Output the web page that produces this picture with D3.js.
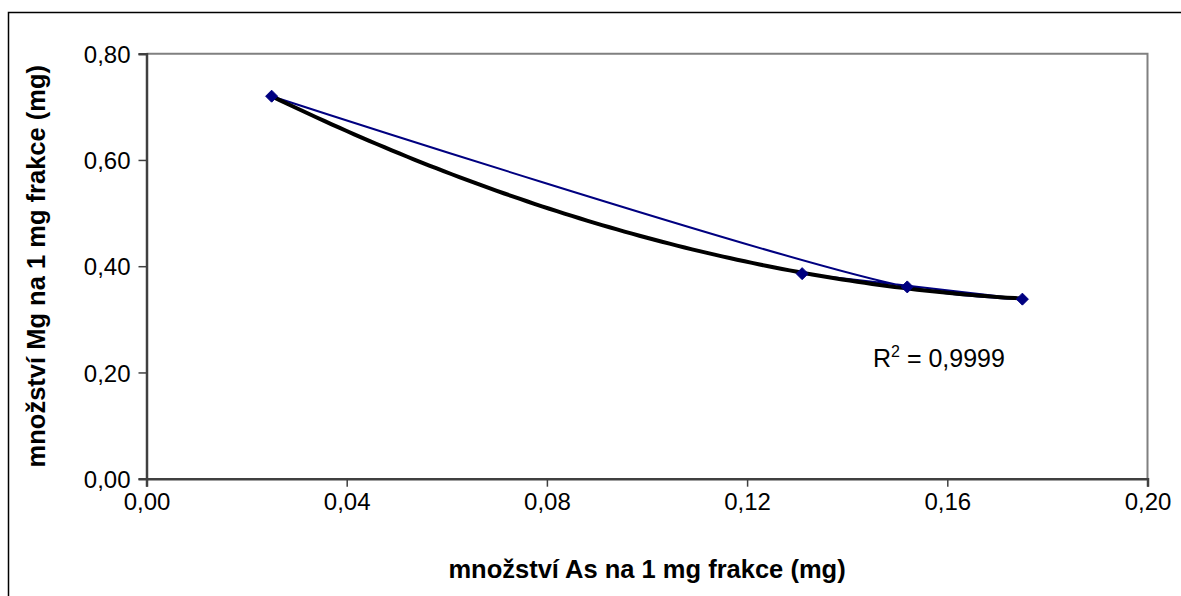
<!DOCTYPE html>
<html>
<head>
<meta charset="utf-8">
<script src="https://cdn.jsdelivr.net/npm/d3@7"></script>
<style>
	html, body { margin: 0; padding: 0; background: #fff; overflow: hidden; }
	svg { display: block; font-family: "Liberation Sans", Arial, sans-serif; }
</style>
</head>
<body>
<svg id="chart"></svg>
<script>
// measured values, in the order of the sheet
var asValues = [0.025, 0.152, 0.175, 0.131];
var mgValues = [0.720, 0.361, 0.338, 0.386];
var xTicks = [0, 0.04, 0.08, 0.12, 0.16, 0.20];
var yTicks = [0, 0.20, 0.40, 0.60, 0.80];
var xTitle = "množství As na 1 mg frakce (mg)";
var yTitle = "množství Mg na 1 mg frakce (mg)";
var rSquaredLabel = "0,9999";

var width = 1181, height = 596;
var plot = {left: 146.5, right: 1147.5, top: 53.7, bottom: 478.7};

var svg = d3.select("#chart")
	.attr("width", width)
	.attr("height", height);

// outer chart frame, cut off at the right and bottom
svg.append("rect")
	.attr("x", 8.5)
	.attr("y", 12.5)
	.attr("width", 1300)
	.attr("height", 700)
	.style("fill", "none")
	.style("stroke", "#000")
	.style("stroke-width", 1.5);

var x = d3.scaleLinear().domain([0, 0.2]).range([plot.left, plot.right]);
var y = d3.scaleLinear().domain([0, 0.8]).range([plot.bottom, plot.top]);

var comma = function(d) { return d3.format(".2f")(d).replace(".", ","); };

// plot area border (top and right are grey)
svg.append("path")
	.attr("d", "M" + plot.left + "," + plot.top + "H" + plot.right + "V" + plot.bottom)
	.style("fill", "none")
	.style("stroke", "#808080")
	.style("stroke-width", 2);

var xAxis = svg.append("g")
	.attr("transform", "translate(0," + plot.bottom + ")")
	.call(d3.axisBottom(x).tickValues(xTicks).tickFormat(comma).tickSize(8).tickPadding(2));
var yAxis = svg.append("g")
	.attr("transform", "translate(" + plot.left + ",0)")
	.call(d3.axisLeft(y).tickValues(yTicks).tickFormat(comma).tickSize(8).tickPadding(8));

[xAxis, yAxis].forEach(function(axis) {
	axis.select(".domain").style("stroke", "#404040").style("stroke-width", 2.5);
	axis.selectAll(".tick line").style("stroke", "#404040").style("stroke-width", 1.5);
	axis.selectAll(".tick text")
		.style("font-family", "\"Liberation Sans\", Arial, sans-serif")
		.style("font-size", "24px")
		.style("fill", "#000");
});
xAxis.selectAll(".tick text").attr("dy", "0.9em");
yAxis.selectAll(".tick text").attr("dy", "0.36em");

svg.append("text")
	.attr("x", (plot.left + plot.right) / 2)
	.attr("y", 578)
	.attr("text-anchor", "middle")
	.style("font-weight", "bold")
	.style("font-size", "25.5px")
	.text(xTitle);

svg.append("text")
	.attr("transform", "translate(45," + ((plot.top + plot.bottom) / 2) + ") rotate(-90)")
	.attr("text-anchor", "middle")
	.style("font-weight", "bold")
	.style("font-size", "25.5px")
	.text(yTitle);

var points = asValues.map(function(d, i) { return {x: d, y: mgValues[i]}; });

// data series, smoothed line
var line = d3.line()
	.x(function(d) { return x(d.x); })
	.y(function(d) { return y(d.y); })
	.curve(d3.curveCatmullRom.alpha(0.5));

svg.append("path")
	.datum(points)
	.attr("d", line)
	.style("fill", "none")
	.style("stroke", "#000080")
	.style("stroke-width", 2);

// polynomial trendline (2nd order, least squares)
function fitQuadratic(pts) {
	var s = [0, 0, 0, 0, 0], t = [0, 0, 0];
	pts.forEach(function(p) {
		for (var k = 0; k < 5; k++) s[k] += Math.pow(p.x, k);
		for (var k = 0; k < 3; k++) t[k] += p.y * Math.pow(p.x, k);
	});
	var m = [[s[0], s[1], s[2], t[0]], [s[1], s[2], s[3], t[1]], [s[2], s[3], s[4], t[2]]];
	for (var i = 0; i < 3; i++) {
		for (var j = i + 1; j < 3; j++) {
			var f = m[j][i] / m[i][i];
			for (var k = i; k < 4; k++) m[j][k] -= f * m[i][k];
		}
	}
	var c = [0, 0, 0];
	for (var i = 2; i >= 0; i--) {
		var v = m[i][3];
		for (var k = i + 1; k < 3; k++) v -= m[i][k] * c[k];
		c[i] = v / m[i][i];
	}
	return c;
}
var coef = fitQuadratic(points);
var xMin = d3.min(asValues), xMax = d3.max(asValues);
var trend = d3.range(0, 101).map(function(i) {
	var xv = xMin + (xMax - xMin) * i / 100;
	return {x: xv, y: coef[0] + coef[1] * xv + coef[2] * xv * xv};
});
svg.append("path")
	.datum(trend)
	.attr("d", d3.line().x(function(d) { return x(d.x); }).y(function(d) { return y(d.y); }))
	.style("fill", "none")
	.style("stroke", "#000")
	.style("stroke-width", 4)
	.style("stroke-linejoin", "round");

// diamond markers
svg.selectAll(".marker")
	.data(points)
	.enter().append("path")
		.attr("class", "marker")
		.attr("transform", function(d) { return "translate(" + x(d.x) + "," + y(d.y) + ")"; })
		.attr("d", "M0,-6L6,0L0,6L-6,0Z")
		.style("fill", "#000080")
		.style("stroke", "#000080")
		.style("stroke-width", 1);

var r2 = svg.append("text")
	.attr("x", 873)
	.attr("y", 367)
	.style("font-size", "25px");
r2.append("tspan").text("R");
r2.append("tspan").attr("dy", -10).style("font-size", "16px").text("2");
r2.append("tspan").attr("dy", 10).text(" = " + rSquaredLabel);
</script>
</body>
</html>
